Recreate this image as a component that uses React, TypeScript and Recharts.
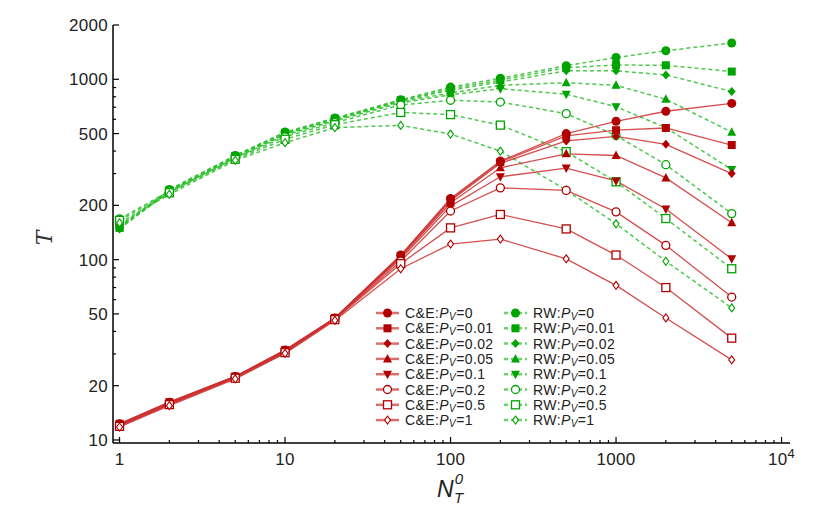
import React from "react";
import { LineChart, Line, XAxis, YAxis } from "recharts";

// N_T^0 values (x)
const N = [1, 2, 5, 10, 20, 50, 100, 200, 500, 1000, 2000, 5000];

// C&E series, P_V = 0 ... 1
const ce0 = [12.3, 16.2, 22.5, 31.5, 47.5, 106, 218, 352, 500, 585, 665, 735];
const ce001 = [12.3, 16.2, 22.5, 31.5, 47.5, 105, 215, 348, 485, 522, 537, 432];
const ce002 = [12.2, 16.1, 22.5, 31.3, 47.3, 104, 212, 342, 455, 483, 436, 300];
const ce005 = [12.2, 16.0, 22.4, 31.2, 47.2, 103, 206, 323, 386, 378, 284, 160];
const ce01 = [12.1, 15.9, 22.3, 31.0, 47.0, 101, 198, 288, 322, 273, 191, 101];
const ce02 = [12.0, 15.8, 22.2, 30.8, 46.8, 98, 186, 250, 242, 184, 120, 62];
const ce05 = [11.9, 15.7, 22.0, 30.5, 46.5, 95, 150, 178, 148, 106, 70, 36.7];
const ce1 = [11.8, 15.5, 21.8, 30.2, 46.0, 89, 122, 130, 101, 72, 47.5, 27.8];

// RW series
const rw0 = [152, 245, 378, 510, 610, 770, 905, 1013, 1190, 1320, 1440, 1590];
const rw001 = [150, 243, 376, 505, 605, 765, 885, 990, 1160, 1200, 1196, 1104];
const rw002 = [148, 240, 373, 500, 600, 760, 870, 966, 1114, 1114, 1057, 855];
const rw005 = [150, 238, 370, 495, 595, 752, 840, 926, 957, 926, 775, 509];
const rw01 = [155, 236, 367, 490, 588, 740, 820, 887, 826, 705, 539, 316];
const rw02 = [168, 240, 365, 480, 575, 720, 765, 748, 645, 488, 336, 180];
const rw05 = [165, 235, 360, 465, 560, 655, 637, 557, 397, 270, 169, 89];
const rw1 = [160, 230, 355, 445, 540, 555, 497, 400, 243, 158, 98, 54];

const pvLabels = ["0", "0.01", "0.02", "0.05", "0.1", "0.2", "0.5", "1"];
const shapes = ["circle", "square", "diamond", "triUp", "triDown", "oCircle", "oSquare", "oDiamond"];
const ceValues = [ce0, ce001, ce002, ce005, ce01, ce02, ce05, ce1];
const rwValues = [rw0, rw001, rw002, rw005, rw01, rw02, rw05, rw1];

const xTicks = [1, 2, 3, 4, 5, 6, 7, 8, 9, 10, 20, 30, 40, 50, 60, 70, 80, 90, 100, 200, 300, 400, 500, 600, 700, 800, 900, 1000, 2000, 3000, 4000, 5000, 6000, 7000, 8000, 9000, 10000];
const xMajor = [1, 10, 100, 1000, 10000];
const yTicks = [10, 20, 30, 40, 50, 60, 70, 80, 90, 100, 200, 300, 400, 500, 600, 700, 800, 900, 1000, 2000];
const yMajor = [10, 20, 50, 100, 200, 500, 1000, 2000];

const RED = "#b00000";
const RED_LINE = "#cc3030";
const GREEN = "#00a400";
const GREEN_LINE = "#2fbf2f";

const rows = N.map((n, i) => {
  const r: Record<string, number> = { n };
  ceValues.forEach((arr, k) => (r["ce" + k] = arr[i]));
  rwValues.forEach((arr, k) => (r["rw" + k] = arr[i]));
  return r;
});

function Marker({ cx, cy, shape, color }: { cx: number; cy: number; shape: string; color: string }) {
  if (cx == null || cy == null) return null;
  switch (shape) {
    case "circle":
      return <circle cx={cx} cy={cy} r={4.5} fill={color} />;
    case "square":
      return <rect x={cx - 4} y={cy - 4} width={8} height={8} fill={color} />;
    case "diamond":
      return <polygon points={`${cx},${cy - 4.5} ${cx + 4},${cy} ${cx},${cy + 4.5} ${cx - 4},${cy}`} fill={color} />;
    case "triUp":
      return <polygon points={`${cx},${cy - 5} ${cx + 4.5},${cy + 3.5} ${cx - 4.5},${cy + 3.5}`} fill={color} />;
    case "triDown":
      return <polygon points={`${cx},${cy + 5} ${cx + 4.5},${cy - 3.5} ${cx - 4.5},${cy - 3.5}`} fill={color} />;
    case "oCircle":
      return <circle cx={cx} cy={cy} r={4} fill="#fff" stroke={color} strokeWidth={1.3} />;
    case "oSquare":
      return <rect x={cx - 4} y={cy - 4} width={8} height={8} fill="#fff" stroke={color} strokeWidth={1.3} />;
    default:
      return <polygon points={`${cx},${cy - 4} ${cx + 3},${cy} ${cx},${cy + 4} ${cx - 3},${cy}`} fill="#fff" stroke={color} strokeWidth={1.1} />;
  }
}

const tickFont = { fontFamily: "Liberation Sans, Arial, sans-serif", fontSize: 17, fill: "#222", letterSpacing: 0.3 };

function XTick(props: any) {
  const { x, y, payload, top } = props;
  const v = payload.value;
  const major = xMajor.includes(v);
  const len = major ? 6 : 3;
  return (
    <g>
      <line x1={x} x2={x} y1={y} y2={top ? y + len : y - len} stroke="#000" strokeWidth={1.2} />
      {!top && major && (
        <text x={x} y={y + 22} textAnchor="middle" {...tickFont}>
          {v === 10000 ? (
            <>
              10<tspan dy={-7} fontSize={13}>4</tspan>
            </>
          ) : (
            String(v)
          )}
        </text>
      )}
    </g>
  );
}

function YTick(props: any) {
  const { x, y, payload, right } = props;
  const v = payload.value;
  const major = yMajor.includes(v);
  const len = major ? 6 : 3;
  return (
    <g>
      <line x1={x} x2={right ? x - len : x + len} y1={y} y2={y} stroke="#000" strokeWidth={1.2} />
      {!right && major && (
        <text x={x - 5} y={y + 6} textAnchor="end" {...tickFont}>
          {v}
        </text>
      )}
    </g>
  );
}

function LegendLabel({ x, y, group, pv }: { x: number; y: number; group: string; pv: string }) {
  return (
    <text x={x} y={y + 5} fontFamily="Liberation Sans, Arial, sans-serif" fontSize={14} letterSpacing={0.4} fill="#222">
      {group}:<tspan fontStyle="italic">P</tspan>
      <tspan fontStyle="italic" fontSize={10} dy={2}>V</tspan>
      <tspan dy={-2}>={pv}</tspan>
    </text>
  );
}

export default function App() {
  return (
    <div style={{ position: "absolute", left: 0, top: 0, width: 830, height: 514, background: "#fff" }}>
      <LineChart width={830} height={514} data={rows} margin={{ top: 25, right: 40, bottom: 31, left: 0 }}>
        <XAxis
          xAxisId="b"
          dataKey="n"
          type="number"
          scale="log"
          domain={[0.913, 11250]}
          allowDataOverflow
          ticks={xTicks}
          interval={0}
          tickSize={0}
          tickMargin={0}
          height={40}
          tick={<XTick />}
          axisLine={{ stroke: "#000", strokeWidth: 1.5 }}
        />
        <XAxis
          xAxisId="t"
          orientation="top"
          dataKey="n"
          type="number"
          scale="log"
          domain={[0.913, 11250]}
          allowDataOverflow
          ticks={xTicks}
          interval={0}
          tickSize={0}
          tickMargin={0}
          height={0}
          tick={<XTick top />}
          axisLine={{ stroke: "#000", strokeWidth: 1.5 }}
        />
        <YAxis
          yAxisId="l"
          type="number"
          scale="log"
          domain={[9.62, 2000]}
          allowDataOverflow
          ticks={yTicks}
          interval={0}
          tickSize={0}
          tickMargin={0}
          width={113}
          tick={<YTick />}
          axisLine={{ stroke: "#000", strokeWidth: 1.5 }}
        />
        <YAxis
          yAxisId="r"
          orientation="right"
          type="number"
          scale="log"
          domain={[9.62, 2000]}
          allowDataOverflow
          ticks={yTicks}
          interval={0}
          tickSize={0}
          tickMargin={0}
          width={0}
          tick={<YTick right />}
          axisLine={{ stroke: "#000", strokeWidth: 1.5 }}
        />
        {rwValues.map((_, k) => (
          <Line
            key={"rw" + k}
            xAxisId="b"
            yAxisId="l"
            dataKey={"rw" + k}
            stroke={GREEN_LINE}
            strokeWidth={1.5}
            strokeDasharray="4 3"
            strokeOpacity={0.85}
            isAnimationActive={false}
            dot={(p: any) => <Marker key={p.index} cx={p.cx} cy={p.cy} shape={shapes[k]} color={GREEN} />}
            activeDot={false}
          />
        ))}
        {ceValues.map((_, k) => (
          <Line
            key={"ce" + k}
            xAxisId="b"
            yAxisId="l"
            dataKey={"ce" + k}
            stroke={RED_LINE}
            strokeWidth={1.3}
            strokeOpacity={0.85}
            isAnimationActive={false}
            dot={(p: any) => <Marker key={p.index} cx={p.cx} cy={p.cy} shape={shapes[k]} color={RED} />}
            activeDot={false}
          />
        ))}
      </LineChart>
      <svg width={830} height={514} style={{ position: "absolute", left: 0, top: 0, pointerEvents: "none" }}>
        {pvLabels.map((pv, k) => {
          const y = 313 + k * 15.3;
          return (
            <g key={k}>
              <line x1={376} x2={399} y1={y} y2={y} stroke={RED_LINE} strokeWidth={2.5} strokeOpacity={0.7} />
              <Marker cx={387.5} cy={y} shape={shapes[k]} color={RED} />
              <LegendLabel x={405} y={y} group="C&E" pv={pv} />
              <line x1={504} x2={527} y1={y} y2={y} stroke={GREEN_LINE} strokeWidth={2.5} strokeDasharray="4 3" strokeOpacity={0.7} />
              <Marker cx={515.5} cy={y} shape={shapes[k]} color={GREEN} />
              <LegendLabel x={533} y={y} group="RW" pv={pv} />
            </g>
          );
        })}
        <text x={52} y={238} transform="rotate(-90 52 238)" textAnchor="middle" fontFamily="DejaVu Serif, serif" fontStyle="italic" fontSize={22} fill="#333">
          T
        </text>
        <text x={437} y={497} fontFamily="Liberation Sans, Arial, sans-serif" fontStyle="italic" fontSize={23} fill="#222">
          N
          <tspan fontSize={15} dx={1} dy={-13}>0</tspan>
          <tspan fontSize={15} dx={-9} dy={19}>T</tspan>
        </text>
      </svg>
    </div>
  );
}
